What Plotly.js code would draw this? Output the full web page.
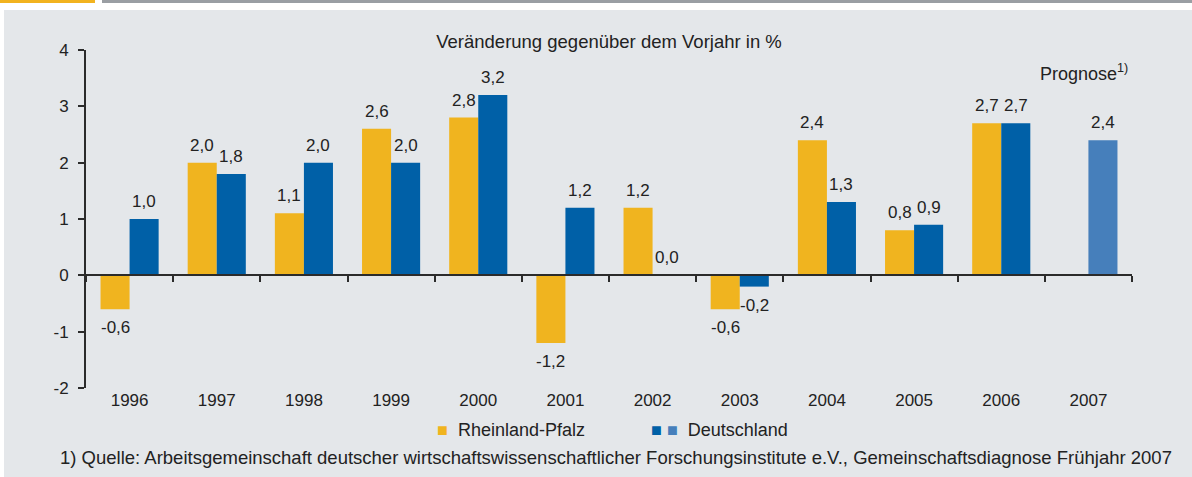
<!DOCTYPE html>
<html>
<head>
<meta charset="utf-8">
<script src="https://cdn.plot.ly/plotly-3.0.1.min.js"></script>
<style>
  html, body { margin: 0; padding: 0; background: #ffffff; width: 1192px; height: 477px; overflow: hidden; }
  #stripA { position: absolute; left: 0; top: 0; width: 95px; height: 3px; background: #f2b31f; }
  #stripB { position: absolute; left: 102px; top: 0; width: 1090px; height: 3px; background: #9a9ea3; }
  #chart { position: absolute; left: 4px; top: 10px; width: 1188px; height: 467px; }
</style>
</head>
<body>
<div id="stripA"></div>
<div id="stripB"></div>
<div id="chart"></div>
<script>
// ---- data ----
var years = ['1996','1997','1998','1999','2000','2001','2002','2003','2004','2005','2006','2007'];
var rheinlandPfalz = [-0.6, 2.0, 1.1, 2.6, 2.8, -1.2, 1.2, -0.6, 2.4, 0.8, 2.7, null];
var deutschland = [1.0, 1.8, 2.0, 2.0, 3.2, 1.2, 0.0, -0.2, 1.3, 0.9, 2.7, 2.4];
var isForecast = [false, false, false, false, false, false, false, false, false, false, false, true];
var yTicks = [-2, -1, 0, 1, 2, 3, 4];
var titleText = 'Veränderung gegenüber dem Vorjahr in %';
var forecastText = 'Prognose<sup>1)</sup>';
var nameRP = 'Rheinland-Pfalz';
var nameDE = 'Deutschland';
var footnote = '1) Quelle: Arbeitsgemeinschaft deutscher wirtschaftswissenschaftlicher Forschungsinstitute e.V., Gemeinschaftsdiagnose Frühjahr 2007';

// ---- styles ----
var cRP = '#f0b41f', cDE = '#0060a7', cDE2 = '#467fbb', cText = '#222222', cAxis = '#2b2b2b';
var FONT = 'Liberation Sans, Arial, sans-serif';
var BAR_HALF = 14.5; // px offset of each bar centre from category centre

function fmt(v) { return v.toFixed(1).replace('.', ','); }

var traces = [
  {
    type: 'bar', name: nameRP, x: years, y: rheinlandPfalz,
    marker: { color: cRP }, hoverinfo: 'skip', showlegend: false
  },
  {
    type: 'bar', name: nameDE, x: years, y: deutschland,
    marker: { color: isForecast.map(function (f) { return f ? cDE2 : cDE; }) },
    hoverinfo: 'skip', showlegend: false
  },
  {
    // helper trace so the zero-level axis (ticks at category boundaries) knows the categories
    type: 'scatter', mode: 'markers', x: years, y: years.map(function () { return 0; }),
    xaxis: 'x2', yaxis: 'y', marker: { opacity: 0, size: 1 }, hoverinfo: 'skip', showlegend: false
  }
];

// value labels, placed through the data axes (category index on the x axis)
var annotations = [];
function addLabels(values, shift) {
  values.forEach(function (v, i) {
    if (v === null || v === undefined) return;
    var neg = v < 0;
    annotations.push({
      xref: 'x', yref: 'y', x: i, y: v, xshift: shift,
      yanchor: neg ? 'top' : 'bottom', yshift: neg ? -7 : 6,
      text: fmt(v), showarrow: false,
      font: { family: FONT, size: 17, color: cText }
    });
  });
}
addLabels(rheinlandPfalz, -BAR_HALF);
addLabels(deutschland, BAR_HALF);

annotations.push(
  { xref: 'paper', yref: 'paper', x: 0.998, y: (388 - 72) / 338, xanchor: 'right', yanchor: 'middle',
    text: forecastText, showarrow: false, font: { family: FONT, size: 18, color: cText } },
  { xref: 'paper', yref: 'paper', x: (435 - 86) / 1046, y: (388 - 430) / 338, xanchor: 'left', yanchor: 'middle',
    text: '<span style="color:' + cRP + '">■</span>  ' + nameRP, showarrow: false,
    font: { family: FONT, size: 18, color: cText } },
  { xref: 'paper', yref: 'paper', x: (649 - 86) / 1046, y: (388 - 430) / 338, xanchor: 'left', yanchor: 'middle',
    text: '<span style="color:' + cDE + '">■</span> <span style="color:' + cDE2 + '">■</span>  ' + nameDE, showarrow: false,
    font: { family: FONT, size: 18, color: cText } },
  { xref: 'paper', yref: 'paper', x: (616 - 86) / 1046, y: (388 - 457) / 338, xanchor: 'center', yanchor: 'middle',
    text: footnote, showarrow: false, font: { family: FONT, size: 18.5, color: cText } }
);

var layout = {
  width: 1188, height: 467,
  margin: { l: 82, r: 60, t: 40, b: 89, pad: 0 },
  paper_bgcolor: '#e4e7ea', plot_bgcolor: 'rgba(0,0,0,0)',
  font: { family: FONT, size: 17, color: cText },
  showlegend: false,
  barmode: 'group', bargap: 1 / 3, bargroupgap: 0,
  title: { text: titleText, x: 0.5, xref: 'paper', xanchor: 'center', y: 1 - 32 / 467, yanchor: 'middle',
           font: { family: FONT, size: 18.5, color: cText } },
  xaxis: {
    type: 'category', range: [-0.5, 11.5], showline: false, ticks: '', showgrid: false, zeroline: false,
    tickfont: { family: FONT, size: 17, color: cText }, fixedrange: true
  },
  xaxis2: {
    type: 'category', overlaying: 'x', anchor: 'free', position: 1 / 3, side: 'bottom',
    range: [-0.5, 11.5], showline: true, linecolor: cAxis, linewidth: 2,
    ticks: 'outside', tickson: 'boundaries', ticklen: 6, tickwidth: 2, tickcolor: cAxis,
    showticklabels: false, showgrid: false, zeroline: false, fixedrange: true
  },
  yaxis: {
    range: [-2, 4], tickvals: yTicks, ticktext: yTicks.map(String),
    showline: true, linecolor: cAxis, linewidth: 2,
    ticks: 'outside', ticklen: 6, tickwidth: 2, tickcolor: cAxis, ticklabelstandoff: 6,
    showgrid: false, zeroline: false,
    tickfont: { family: FONT, size: 17, color: cText }, fixedrange: true
  },
  annotations: annotations
};

Plotly.newPlot('chart', traces, layout, { displayModeBar: false, staticPlot: true });
</script>
</body>
</html>
